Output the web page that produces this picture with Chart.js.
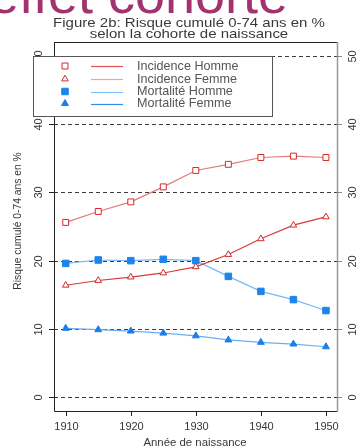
<!DOCTYPE html>
<html>
<head>
<meta charset="utf-8">
<script src="https://cdn.jsdelivr.net/npm/chart.js@4/dist/chart.umd.min.js"></script>
<style>
  html, body { margin: 0; padding: 0; background: #ffffff; }
  #wrap { position: relative; width: 357px; height: 448px; }
</style>
</head>
<body>
<div id="wrap"><canvas id="c"></canvas></div>
<script>
// Birth cohorts and cumulative 0-74 risk (%)
const years = [1910, 1915, 1920, 1925, 1930, 1935, 1940, 1945, 1950];
const incidenceHomme = [25.6, 27.2, 28.6, 30.8, 33.2, 34.1, 35.1, 35.3, 35.1];
const incidenceFemme = [16.4, 17.1, 17.6, 18.2, 19.1, 20.9, 23.2, 25.2, 26.4];
const mortaliteHomme = [19.6, 20.1, 20.0, 20.2, 20.0, 17.7, 15.5, 14.3, 12.7];
const mortaliteFemme = [10.1, 9.9, 9.7, 9.4, 9.0, 8.4, 8.05, 7.8, 7.4];

const seriesNames = ['Incidence Homme', 'Incidence Femme', 'Mortalité Homme', 'Mortalité Femme'];
const xTicks = [1910, 1920, 1930, 1940, 1950];
const yTicks = [0, 10, 20, 30, 40, 50];

const bannerText = 'effet cohorte';
const titleLines = ['Figure 2b: Risque cumulé 0-74 ans en %', 'selon la cohorte de naissance'];
const xTitle = 'Année de naissance';
const yTitle = 'Risque cumulé 0-74 ans en %';

const FONT = '"Liberation Sans", Arial, sans-serif';

const styles = [
  { line: '#e77a7a', point: '#d42a2a', legendLine: '#e05252', shape: 'rect', fill: '#ffffff', r: 4.2 },
  { line: '#d83a3a', point: '#d42a2a', legendLine: '#f0a4a4', shape: 'triangle', fill: '#ffffff', r: 3.8 },
  { line: '#78b8f4', point: '#1c84ea', legendLine: '#86c2f8', shape: 'rect', fill: '#1c84ea', r: 4.6 },
  { line: '#6aaef2', point: '#1c7ee6', legendLine: '#2e8ef0', shape: 'triangle', fill: '#1c7ee6', r: 4.0 }
];

const seriesValues = [incidenceHomme, incidenceFemme, mortaliteHomme, mortaliteFemme];

const datasets = seriesValues.map((vals, i) => ({
  label: seriesNames[i],
  data: years.map((y, k) => ({ x: y, y: vals[k] })),
  borderColor: styles[i].line,
  borderWidth: 1.2,
  pointStyle: styles[i].shape,
  pointRadius: styles[i].r,
  pointBorderWidth: 1,
  pointBorderColor: styles[i].point,
  pointBackgroundColor: styles[i].fill,
  tension: 0,
  fill: false
}));

function px(v) { return Math.round(v) + 0.5; }

const decorations = {
  id: 'decorations',
  beforeDatasetsDraw(chart) {
    const { ctx, chartArea: a, scales: { y } } = chart;
    ctx.save();
    ctx.strokeStyle = '#3c3c3c';
    ctx.lineWidth = 1;
    ctx.setLineDash([4, 3]);
    yTicks.forEach(t => {
      const yy = px(y.getPixelForValue(t));
      ctx.beginPath();
      ctx.moveTo(a.left, yy);
      ctx.lineTo(a.right, yy);
      ctx.stroke();
    });
    ctx.restore();
  },
  afterDraw(chart) {
    const { ctx, chartArea: a, scales: { x, y } } = chart;
    ctx.save();

    // frame: dark on left / bottom / top, grey on the right
    ctx.lineWidth = 1;
    ctx.strokeStyle = '#222222';
    ctx.beginPath();
    ctx.moveTo(px(a.left), a.top);
    ctx.lineTo(px(a.left), px(a.bottom));
    ctx.lineTo(a.right, px(a.bottom));
    ctx.moveTo(px(a.left), px(a.top));
    ctx.lineTo(a.right, px(a.top));
    ctx.stroke();
    ctx.strokeStyle = '#9a9a9a';
    ctx.lineWidth = 1.5;
    ctx.beginPath();
    ctx.moveTo(a.right + 0.5, a.top);
    ctx.lineTo(a.right + 0.5, a.bottom + 1);
    ctx.stroke();

    // x ticks and labels
    ctx.lineWidth = 1;
    ctx.strokeStyle = '#222222';
    ctx.fillStyle = '#383838';
    ctx.font = '11px ' + FONT;
    ctx.textAlign = 'center';
    ctx.textBaseline = 'middle';
    xTicks.forEach(t => {
      const xx = px(x.getPixelForValue(t));
      ctx.beginPath();
      ctx.moveTo(xx, a.bottom);
      ctx.lineTo(xx, a.bottom + 5);
      ctx.stroke();
      ctx.fillText(String(t), xx, a.bottom + 16);
    });

    // y ticks, both sides, with rotated labels
    yTicks.forEach(t => {
      const yy = px(y.getPixelForValue(t));
      ctx.strokeStyle = '#222222';
      ctx.beginPath();
      ctx.moveTo(a.left - 5, yy);
      ctx.lineTo(a.left, yy);
      ctx.stroke();
      ctx.strokeStyle = '#888888';
      ctx.beginPath();
      ctx.moveTo(a.right, yy);
      ctx.lineTo(a.right + 5, yy);
      ctx.stroke();
      [a.left - 15, a.right + 16].forEach(lx => {
        ctx.save();
        ctx.translate(lx, yy);
        ctx.rotate(-Math.PI / 2);
        ctx.fillText(String(t), 0, 0);
        ctx.restore();
      });
    });

    // axis titles
    ctx.font = '11.4px ' + FONT;
    ctx.fillText(xTitle, (a.left + a.right) / 2 - 0.5, 443);
    ctx.save();
    ctx.translate(18, 221);
    ctx.rotate(-Math.PI / 2);
    ctx.font = '10.3px ' + FONT;
    ctx.fillText(yTitle, 0, 0);
    ctx.restore();

    // legend box
    const L = { x: 33, y: 56, w: 239, h: 60 };
    ctx.fillStyle = '#ffffff';
    ctx.fillRect(L.x, L.y, L.w, L.h);
    ctx.strokeStyle = '#555555';
    ctx.lineWidth = 1;
    ctx.strokeRect(L.x + 0.5, L.y + 0.5, L.w, L.h);
    const rows = [66, 79, 91.5, 103.5];
    ctx.font = '12.6px ' + FONT;
    ctx.textAlign = 'left';
    rows.forEach((ry, i) => {
      const s = styles[i];
      ctx.fillStyle = s.fill;
      ctx.strokeStyle = s.point;
      ctx.lineWidth = 1;
      ctx.beginPath();
      if (s.shape === 'rect') {
        const h = Math.SQRT1_2 * s.r;
        ctx.rect(65 - h, ry - h, 2 * h, 2 * h);
      } else {
        const r = s.r;
        ctx.moveTo(65, ry - r);
        ctx.lineTo(65 + r * 0.866, ry + r * 0.5);
        ctx.lineTo(65 - r * 0.866, ry + r * 0.5);
        ctx.closePath();
      }
      ctx.fill();
      ctx.stroke();
      ctx.strokeStyle = s.legendLine;
      ctx.lineWidth = 1.2;
      ctx.beginPath();
      ctx.moveTo(91, Math.round(ry) + 0.5);
      ctx.lineTo(123, Math.round(ry) + 0.5);
      ctx.stroke();
      ctx.fillStyle = '#555555';
      ctx.textBaseline = 'middle';
      ctx.fillText(seriesNames[i], 137, ry + 0.5);
    });

    // figure title, two lines
    ctx.fillStyle = '#3a3a3a';
    ctx.textAlign = 'center';
    ctx.textBaseline = 'alphabetic';
    ctx.save();
    ctx.translate(189, 0);
    ctx.scale(1.12, 1);
    ctx.font = '13.4px ' + FONT;
    ctx.fillText(titleLines[0], 0, 27);
    ctx.fillText(titleLines[1], 0, 38);
    ctx.restore();

    // slide heading band, mostly above the page edge
    ctx.font = '54px ' + FONT;
    ctx.fillStyle = '#a2336f';
    ctx.textAlign = 'left';
    ctx.textBaseline = 'alphabetic';
    const lead = ctx.measureText('effet ').width;
    ctx.fillText(bannerText, 108 - lead, 13);

    ctx.restore();
  }
};

new Chart(document.getElementById('c'), {
  type: 'line',
  data: { datasets },
  options: {
    responsive: true,
    maintainAspectRatio: false,
    animation: false,
    devicePixelRatio: 1,
    layout: { padding: { left: 54, top: 42, right: 20, bottom: 37 } },
    plugins: { legend: { display: false }, title: { display: false }, tooltip: { enabled: false } },
    scales: {
      x: { type: 'linear', display: false, min: 1908.2, max: 1951.7 },
      y: { type: 'linear', display: false, min: -2, max: 52 }
    }
  },
  plugins: [decorations]
});
</script>
</body>
</html>
